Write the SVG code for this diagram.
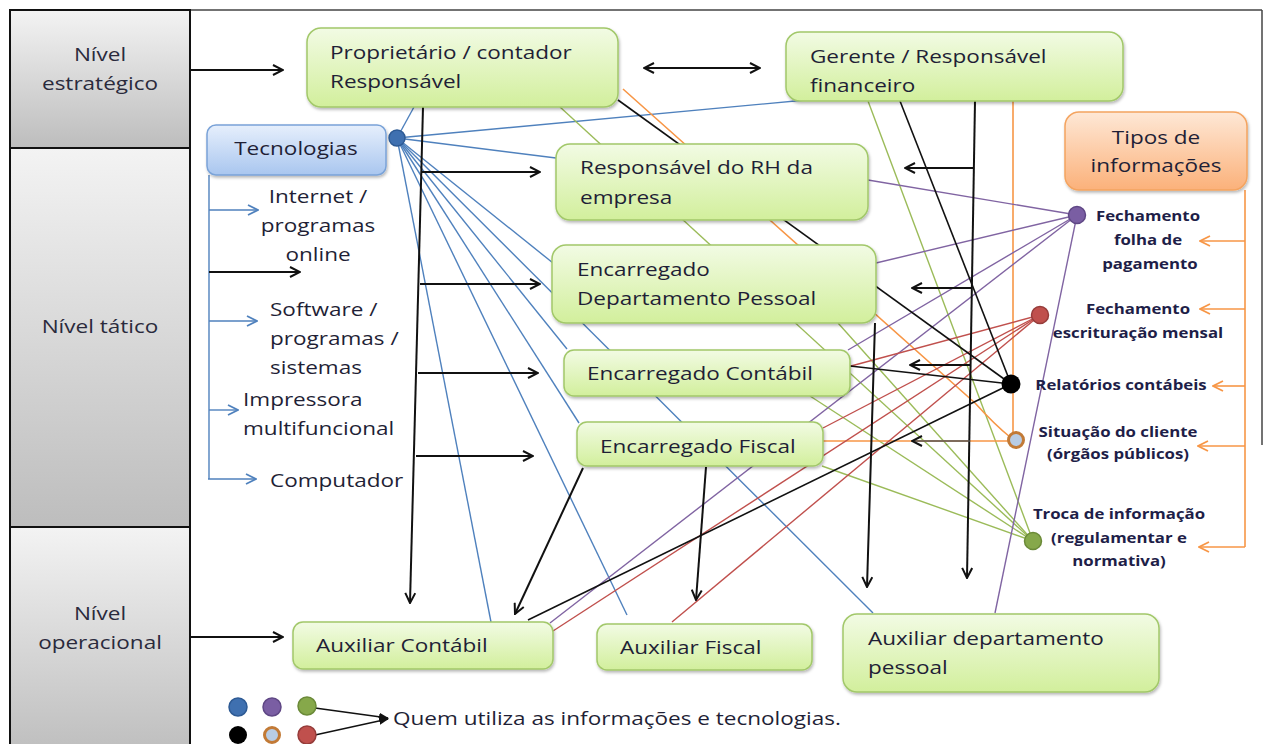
<svg xmlns="http://www.w3.org/2000/svg" width="1267" height="744" viewBox="0 0 1267 744">
<defs>
<linearGradient id="gGray" x1="0" y1="0" x2="0" y2="1"><stop offset="0" stop-color="#f3f3f3"/><stop offset="1" stop-color="#bdbdbd"/></linearGradient>
<linearGradient id="gGreen" x1="0" y1="0" x2="0" y2="1"><stop offset="0" stop-color="#f2fbe4"/><stop offset="1" stop-color="#d2ef9c"/></linearGradient>
<linearGradient id="gBlue" x1="0" y1="0" x2="0" y2="1"><stop offset="0" stop-color="#e6effc"/><stop offset="1" stop-color="#a9c6ef"/></linearGradient>
<linearGradient id="gOrange" x1="0" y1="0" x2="0" y2="1"><stop offset="0" stop-color="#fee8d6"/><stop offset="1" stop-color="#fbb17a"/></linearGradient>
<filter id="sh" x="-10%" y="-10%" width="120%" height="130%"><feDropShadow dx="1" dy="2" stdDeviation="1.5" flood-color="#000" flood-opacity="0.28"/></filter>
<marker id="aK" viewBox="0 0 12 12" refX="11" refY="6" markerWidth="12" markerHeight="12" markerUnits="userSpaceOnUse" orient="auto-start-reverse"><path d="M1,1 L11,6 L1,11" fill="none" stroke="#111" stroke-width="2"/></marker>
<marker id="aB" viewBox="0 0 12 12" refX="11" refY="6" markerWidth="12" markerHeight="12" markerUnits="userSpaceOnUse" orient="auto"><path d="M1,1 L11,6 L1,11" fill="none" stroke="#4f81bd" stroke-width="1.8"/></marker>
<marker id="aO" viewBox="0 0 12 12" refX="11" refY="6" markerWidth="12" markerHeight="12" markerUnits="userSpaceOnUse" orient="auto"><path d="M1,1 L11,6 L1,11" fill="none" stroke="#f79646" stroke-width="1.8"/></marker>
<marker id="aS" viewBox="0 0 10 10" refX="9" refY="5" markerWidth="10" markerHeight="10" markerUnits="userSpaceOnUse" orient="auto"><path d="M0,1 L10,5 L0,9 Z" fill="#111"/></marker>
</defs>
<style>
.lvl{font-family:"Open Sans","DejaVu Sans",sans-serif;font-size:19px;fill:#2a2a3c;text-anchor:middle}
.nt{font-family:"Open Sans","DejaVu Sans",sans-serif;font-size:19px;fill:#1f1f36}
.ntc{font-family:"Open Sans","DejaVu Sans",sans-serif;font-size:19px;fill:#1f1f36;text-anchor:middle}
.inf{font-family:"Open Sans","DejaVu Sans",sans-serif;font-size:14px;font-weight:bold;fill:#1e1e48;text-anchor:middle}
.lv{fill:url(#gGray);stroke:#111;stroke-width:2}
.node{fill:url(#gGreen);stroke:#a2c86a;stroke-width:1.5;filter:url(#sh)}
.k{stroke:#111;stroke-width:2;fill:none}
.kt{stroke:#111;stroke-width:1.6;fill:none}
.b{stroke:#4f81bd;stroke-width:1.4;fill:none}
.g{stroke:#9bbb59;stroke-width:1.4;fill:none}
.o{stroke:#f79646;stroke-width:1.6;fill:none}
.p{stroke:#8064a2;stroke-width:1.4;fill:none}
.r{stroke:#c0504d;stroke-width:1.4;fill:none}
</style>
<rect width="1267" height="744" fill="#fff"/>

<g id="frame">
<line x1="10" y1="10" x2="1262" y2="10" stroke="#444" stroke-width="1.5"/>
<line x1="1262" y1="10" x2="1262" y2="445" stroke="#444" stroke-width="1.5"/>
</g>

<g id="nivel-estrategico"><rect class="lv" x="10" y="10" width="180" height="138"/><text class="lvl" transform="matrix(1.186 0 0 1 100 61)">Nível</text><text class="lvl" transform="matrix(1.186 0 0 1 100 90)">estratégico</text></g>
<g id="nivel-tatico"><rect class="lv" x="10" y="148" width="180" height="379"/><text class="lvl" transform="matrix(1.186 0 0 1 100 333)">Nível tático</text></g>
<g id="nivel-operacional"><rect class="lv" x="10" y="527" width="180" height="230"/><text class="lvl" transform="matrix(1.186 0 0 1 100 620)">Nível</text><text class="lvl" transform="matrix(1.186 0 0 1 100 649)">operacional</text></g>

<g id="connectors">
<line class="b" x1="397" y1="138" x2="414" y2="107"/>
<line class="b" x1="397" y1="138" x2="806" y2="100"/>
<line class="b" x1="397" y1="138" x2="556" y2="158"/>
<line class="b" x1="397" y1="138" x2="553" y2="263"/>
<line class="b" x1="397" y1="138" x2="873" y2="613"/>
<line class="b" x1="397" y1="138" x2="567" y2="349"/>
<line class="b" x1="397" y1="138" x2="579" y2="423"/>
<line class="b" x1="397" y1="138" x2="627" y2="615"/>
<line class="b" x1="397" y1="138" x2="491" y2="622"/>
<line class="b" x1="209" y1="175" x2="209" y2="479"/>
<line class="b" x1="209" y1="210" x2="258" y2="210" marker-end="url(#aB)"/>
<line class="b" x1="209" y1="321" x2="257" y2="321" marker-end="url(#aB)"/>
<line class="b" x1="209" y1="410" x2="238" y2="410" marker-end="url(#aB)"/>
<line class="b" x1="208" y1="479" x2="256" y2="479" marker-end="url(#aB)"/>
<line class="k" x1="209" y1="272" x2="300" y2="272" marker-end="url(#aK)"/>

<line class="g" x1="868" y1="101" x2="1033" y2="541"/>
<line class="g" x1="560" y1="107" x2="1033" y2="541"/>
<line class="g" x1="838" y1="323" x2="1033" y2="541"/>
<line class="g" x1="810" y1="396" x2="1033" y2="541"/>
<line class="g" x1="822" y1="466" x2="1033" y2="541"/>

<path class="o" d="M623,89 L975,403 Q995,425 1010,437"/>
<line class="o" x1="1013" y1="101" x2="1013" y2="432"/>
<line class="o" x1="1008" y1="441" x2="823" y2="441"/>
<line class="o" x1="1245" y1="190" x2="1245" y2="547"/>
<line class="o" x1="1245" y1="241" x2="1200" y2="241" marker-end="url(#aO)"/>
<line class="o" x1="1245" y1="309" x2="1200" y2="309" marker-end="url(#aO)"/>
<line class="o" x1="1245" y1="386" x2="1213" y2="386" marker-end="url(#aO)"/>
<line class="o" x1="1245" y1="446" x2="1198" y2="446" marker-end="url(#aO)"/>
<line class="o" x1="1245" y1="547" x2="1199" y2="547" marker-end="url(#aO)"/>

<line class="p" x1="868" y1="180" x2="1077" y2="215"/>
<line class="p" x1="876" y1="263" x2="1077" y2="215"/>
<line class="p" x1="848" y1="350" x2="1077" y2="215"/>
<line class="p" x1="550" y1="623" x2="1077" y2="215"/>
<line class="p" x1="995" y1="613" x2="1077" y2="215"/>

<line class="r" x1="851" y1="366" x2="1040" y2="315"/>
<line class="r" x1="823" y1="428" x2="1040" y2="315"/>
<line class="r" x1="553" y1="631" x2="1040" y2="315"/>
<line class="r" x1="672" y1="622" x2="1040" y2="315"/>

<line class="kt" x1="618" y1="100" x2="1011" y2="384"/>
<line class="kt" x1="900" y1="101" x2="1011" y2="384"/>
<line class="kt" x1="850" y1="366" x2="1011" y2="384"/>
<line class="kt" x1="1011" y1="384" x2="528" y2="620"/>

<line class="k" x1="190" y1="70" x2="283" y2="70" marker-end="url(#aK)"/>
<line class="k" x1="190" y1="637" x2="283" y2="637" marker-end="url(#aK)"/>
<line class="k" x1="644" y1="68" x2="760" y2="68" marker-start="url(#aK)" marker-end="url(#aK)"/>

<line class="k" x1="423" y1="107" x2="410" y2="603" marker-end="url(#aK)"/>
<line class="k" x1="421" y1="172" x2="540" y2="172" marker-end="url(#aK)"/>
<line class="k" x1="420" y1="284" x2="540" y2="284" marker-end="url(#aK)"/>
<line class="k" x1="418" y1="373" x2="538" y2="373" marker-end="url(#aK)"/>
<line class="k" x1="416" y1="456" x2="533" y2="456" marker-end="url(#aK)"/>

<line class="k" x1="975" y1="101" x2="967" y2="578" marker-end="url(#aK)"/>
<line class="k" x1="973" y1="168" x2="905" y2="168" marker-end="url(#aK)"/>
<line class="k" x1="972" y1="288" x2="912" y2="288" marker-end="url(#aK)"/>
<line class="k" x1="971" y1="365" x2="910" y2="365" marker-end="url(#aK)"/>
<line stroke="#555" stroke-width="1.6" x1="970" y1="441" x2="912" y2="441" marker-end="url(#aK)"/>

<line class="k" x1="583" y1="468" x2="515" y2="614" marker-end="url(#aK)"/>
<line class="k" x1="706" y1="467" x2="696" y2="600" marker-end="url(#aK)"/>
<line class="k" x1="875" y1="323" x2="867" y2="587" marker-end="url(#aK)"/>

<line stroke="#111" stroke-width="1.6" x1="315" y1="708" x2="388" y2="718" marker-end="url(#aS)"/>
<line stroke="#111" stroke-width="1.6" x1="315" y1="735" x2="388" y2="719" marker-end="url(#aS)"/>
</g>

<g id="proprietario"><rect class="node" x="307" y="28" width="311" height="79" rx="14"/><text class="nt" transform="matrix(1.186 0 0 1 330 59)">Proprietário / contador</text><text class="nt" transform="matrix(1.186 0 0 1 330 88)">Responsável</text></g>
<g id="gerente"><rect class="node" x="786" y="32" width="337" height="69" rx="14"/><text class="nt" transform="matrix(1.186 0 0 1 810 63)">Gerente / Responsável</text><text class="nt" transform="matrix(1.186 0 0 1 810 92)">financeiro</text></g>
<g id="rh"><rect class="node" x="556" y="144" width="312" height="76" rx="14"/><text class="nt" transform="matrix(1.186 0 0 1 580 174)">Responsável do RH da</text><text class="nt" transform="matrix(1.186 0 0 1 580 204)">empresa</text></g>
<g id="enc-dp"><rect class="node" x="552" y="245" width="324" height="78" rx="14"/><text class="nt" transform="matrix(1.186 0 0 1 577 276)">Encarregado</text><text class="nt" transform="matrix(1.186 0 0 1 577 305)">Departamento Pessoal</text></g>
<g id="enc-contabil"><rect class="node" x="564" y="350" width="286" height="46" rx="10"/><text class="nt" transform="matrix(1.186 0 0 1 587 380)">Encarregado Contábil</text></g>
<g id="enc-fiscal"><rect class="node" x="577" y="422" width="246" height="44" rx="10"/><text class="nt" transform="matrix(1.186 0 0 1 600 453)">Encarregado Fiscal</text></g>
<g id="aux-contabil"><rect class="node" x="293" y="622" width="260" height="47" rx="10"/><text class="nt" transform="matrix(1.186 0 0 1 316 652)">Auxiliar Contábil</text></g>
<g id="aux-fiscal"><rect class="node" x="597" y="624" width="215" height="46" rx="10"/><text class="nt" transform="matrix(1.186 0 0 1 620 654)">Auxiliar Fiscal</text></g>
<g id="aux-dp"><rect class="node" x="843" y="614" width="316" height="78" rx="14"/><text class="nt" transform="matrix(1.186 0 0 1 868 645)">Auxiliar departamento</text><text class="nt" transform="matrix(1.186 0 0 1 868 674)">pessoal</text></g>

<g id="tecnologias"><rect x="207" y="125" width="179" height="50" rx="9" fill="url(#gBlue)" stroke="#7aa3d8" stroke-width="1.5" filter="url(#sh)"/><text class="ntc" transform="matrix(1.186 0 0 1 296 155)">Tecnologias</text></g>
<g id="tec-internet"><text class="ntc" transform="matrix(1.186 0 0 1 318 203)">Internet /</text><text class="ntc" transform="matrix(1.186 0 0 1 318 232)">programas</text><text class="ntc" transform="matrix(1.186 0 0 1 318 261)">online</text></g>
<g id="tec-software"><text class="nt" transform="matrix(1.186 0 0 1 270 316)">Software /</text><text class="nt" transform="matrix(1.186 0 0 1 270 345)">programas /</text><text class="nt" transform="matrix(1.186 0 0 1 270 374)">sistemas</text></g>
<g id="tec-impressora"><text class="nt" transform="matrix(1.186 0 0 1 243 406)">Impressora</text><text class="nt" transform="matrix(1.186 0 0 1 243 435)">multifuncional</text></g>
<g id="tec-computador"><text class="nt" transform="matrix(1.186 0 0 1 270 487)">Computador</text></g>

<g id="tipos"><rect x="1065" y="112" width="182" height="78" rx="14" fill="url(#gOrange)" stroke="#f4a460" stroke-width="1.5" filter="url(#sh)"/><text class="ntc" transform="matrix(1.186 0 0 1 1156 144)">Tipos de</text><text class="ntc" transform="matrix(1.186 0 0 1 1156 172)">informações</text></g>

<g id="dot-tec"><circle cx="397" cy="138" r="8" fill="#3f70b0" stroke="#2d5a94" stroke-width="1.5"/></g>
<g id="inf-folha"><circle cx="1077" cy="215" r="8.5" fill="#7a5ea3" stroke="#5f4785" stroke-width="1.5"/><text class="inf" transform="matrix(1.2 0 0 1 1148 221)">Fechamento</text><text class="inf" transform="matrix(1.2 0 0 1 1148 245)">folha de</text><text class="inf" transform="matrix(1.2 0 0 1 1150 269)">pagamento</text></g>
<g id="inf-escrituracao"><circle cx="1040" cy="315" r="8.5" fill="#c0504d" stroke="#963c3a" stroke-width="1.5"/><text class="inf" transform="matrix(1.2 0 0 1 1138 314)">Fechamento</text><text class="inf" transform="matrix(1.2 0 0 1 1138 338)">escrituração mensal</text></g>
<g id="inf-relatorios"><circle cx="1011" cy="384" r="9.5" fill="#000"/><text class="inf" transform="matrix(1.2 0 0 1 1121 390)">Relatórios contábeis</text></g>
<g id="inf-situacao"><circle cx="1016" cy="440" r="7.5" fill="#b8cce4" stroke="#c27a36" stroke-width="3"/><text class="inf" transform="matrix(1.2 0 0 1 1118 437)">Situação do cliente</text><text class="inf" transform="matrix(1.2 0 0 1 1118 459)">(órgãos públicos)</text></g>
<g id="inf-troca"><circle cx="1033" cy="541" r="8.5" fill="#86a84a" stroke="#6b8a38" stroke-width="1.5"/><text class="inf" transform="matrix(1.2 0 0 1 1119 519)">Troca de informação</text><text class="inf" transform="matrix(1.2 0 0 1 1119 543)">(regulamentar e</text><text class="inf" transform="matrix(1.2 0 0 1 1119 566)">normativa)</text></g>

<g id="legend">
<circle cx="238" cy="707" r="9" fill="#3f70b0" stroke="#2d5a94" stroke-width="1.5"/>
<circle cx="272" cy="707" r="9" fill="#7a5ea3" stroke="#5f4785" stroke-width="1.5"/>
<circle cx="307" cy="706" r="9" fill="#86a84a" stroke="#6b8a38" stroke-width="1.5"/>
<circle cx="238" cy="735" r="9" fill="#000"/>
<circle cx="272" cy="735" r="7.5" fill="#b8cce4" stroke="#c27a36" stroke-width="3"/>
<circle cx="307" cy="735" r="9" fill="#c0504d" stroke="#963c3a" stroke-width="1.5"/>
<text class="nt" transform="matrix(1.186 0 0 1 393 725)">Quem utiliza as informações e tecnologias.</text>
</g>
</svg>
